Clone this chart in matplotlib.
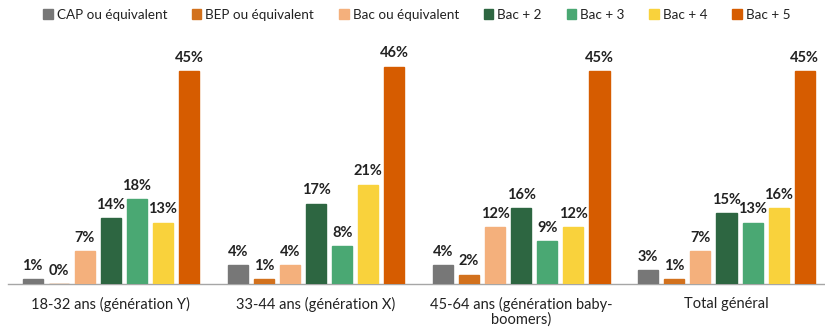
import numpy as np
import matplotlib.pyplot as plt

plt.rcParams['font.family'] = ['Lato', 'DejaVu Sans']

groupes = ["18-32 ans (génération Y)", "33-44 ans (génération X)",
           "45-64 ans (génération baby-\nboomers)", "Total général"]
diplomes = ["CAP ou équivalent", "BEP ou équivalent", "Bac ou équivalent",
            "Bac + 2", "Bac + 3", "Bac + 4", "Bac + 5"]

cap = [1, 4, 4, 3]
bep = [0, 1, 2, 1]
bac = [7, 4, 12, 7]
bac2 = [14, 17, 16, 15]
bac3 = [18, 8, 9, 13]
bac4 = [13, 21, 12, 16]
bac5 = [45, 46, 45, 45]
series = [cap, bep, bac, bac2, bac3, bac4, bac5]

couleurs = ['#777777', '#d2711d', '#f4b07c', '#2d6641',
            '#4aa873', '#f9d23c', '#d65c00']

fig = plt.figure(figsize=(8.25, 3.33), dpi=100)
ax = fig.add_axes([0.01, 0.147, 0.99, 0.71])

x = np.arange(len(groupes))
pas = 0.127
largeur = 0.098

for j, (vals, nom, c) in enumerate(zip(series, diplomes, couleurs)):
    pos = x + (j - 3) * pas
    bars = ax.bar(pos, vals, largeur, color=c, edgecolor=c, linewidth=1.0,
                  label=nom, zorder=3)
    for b, v in zip(bars, vals):
        ax.annotate(f"{v}%", (b.get_x() + b.get_width() / 2, v),
                    xytext=(0, 4.5), textcoords='offset points',
                    ha='center', va='bottom', fontsize=10.5, fontweight='bold',
                    color='#222222', annotation_clip=False)

ax.set_xlim(-0.5, 3.48)
ax.set_ylim(0, 50)
ax.set_xticks(x)
ax.set_xticklabels(groupes, fontsize=10.5, color='#222222', linespacing=1.05)
ax.tick_params(axis='x', length=0, pad=9)
ax.set_yticks([])
for s in ['top', 'right', 'left']:
    ax.spines[s].set_visible(False)
ax.spines['bottom'].set_color('#a6a6a6')
ax.spines['bottom'].set_linewidth(1.0)

fig.legend(loc='upper center', bbox_to_anchor=(0.505, 1.01), ncol=7,
           frameon=False, fontsize=9.7, handlelength=0.7, handleheight=0.7,
           handletextpad=0.3, columnspacing=1.85, labelcolor='#222222')

fig.savefig('out.png', dpi=100)
